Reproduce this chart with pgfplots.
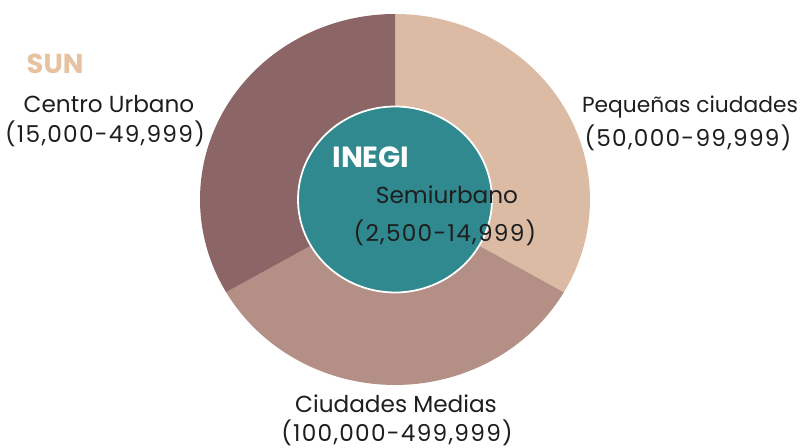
\documentclass[border=0pt]{standalone}
\usepackage{pgfplots}
\pgfplotsset{compat=1.18}
\usepackage{fontspec}
\setmainfont{Poppins}
\newfontfamily\numfont[LetterSpace=5.5]{Poppins}
\definecolor{cLight}{HTML}{DCBBA4}
\definecolor{cMid}{HTML}{B48F86}
\definecolor{cDark}{HTML}{8C6566}
\definecolor{cTeal}{HTML}{30898E}
\definecolor{cSun}{HTML}{E6C2A0}
\definecolor{cText}{HTML}{1E1E1E}
\def\cx{395}\def\cy{199.5}\def\rx{195}\def\ry{185.5}
\def\irx{97}\def\iry{93}
\tikzset{lbl/.style={font=\fontsize{6.6}{8}\selectfont, text=cText, inner sep=0pt},
  num/.style={font=\fontsize{6.6}{8}\selectfont\numfont, text=cText, inner sep=0pt}}
\begin{document}
\begin{tikzpicture}
\begin{axis}[
  width=8.01cm, height=4.48cm, scale only axis,
  xmin=0, xmax=801, ymin=0, ymax=448, y dir=reverse,
  axis line style={draw=none}, xtick=\empty, ytick=\empty, clip=false,
]
% equal thirds: Pequeñas ciudades 90 -> -30
\addplot[fill=cLight, draw=none, domain=-30:90, samples=80, variable=\t]
  ({\cx+\rx*cos(\t)},{\cy-\ry*sin(\t)}) -- (axis cs:\cx,\cy) -- cycle;
% Ciudades Medias -30 -> -150
\addplot[fill=cMid, draw=none, domain=-150:-30, samples=80, variable=\t]
  ({\cx+\rx*cos(\t)},{\cy-\ry*sin(\t)}) -- (axis cs:\cx,\cy) -- cycle;
% Centro Urbano 210 -> 90
\addplot[fill=cDark, draw=none, domain=90:210, samples=80, variable=\t]
  ({\cx+\rx*cos(\t)},{\cy-\ry*sin(\t)}) -- (axis cs:\cx,\cy) -- cycle;
% inner INEGI circle
\addplot[fill=cTeal, draw=white, line width=0.5pt, domain=0:360, samples=120, variable=\t]
  ({\cx+\irx*cos(\t)},{\cy-\iry*sin(\t)}) -- cycle;

\node[lbl, text=cSun, font=\fontsize{7.8}{8}\selectfont\bfseries, anchor=west] at (axis cs:26,64) {SUN};
\node[lbl] at (axis cs:109,104) {Centro Urbano};
\node[num] at (axis cs:105,134) {(15,000-49,999)};
\node[lbl, font=\fontsize{6.2}{8}\selectfont] at (axis cs:690,107) {Pequeñas ciudades};
\node[num] at (axis cs:688,138) {(50,000-99,999)};
\node[lbl, text=white, font=\fontsize{8.3}{9}\selectfont\bfseries] at (axis cs:371,157) {INEGI};
\node[lbl] at (axis cs:447,195) {Semiurbano};
\node[num] at (axis cs:445,233) {(2,500-14,999)};
\node[lbl] at (axis cs:396,404) {Ciudades Medias};
\node[num] at (axis cs:397,433) {(100,000-499,999)};
\end{axis}
\end{tikzpicture}
\end{document}
